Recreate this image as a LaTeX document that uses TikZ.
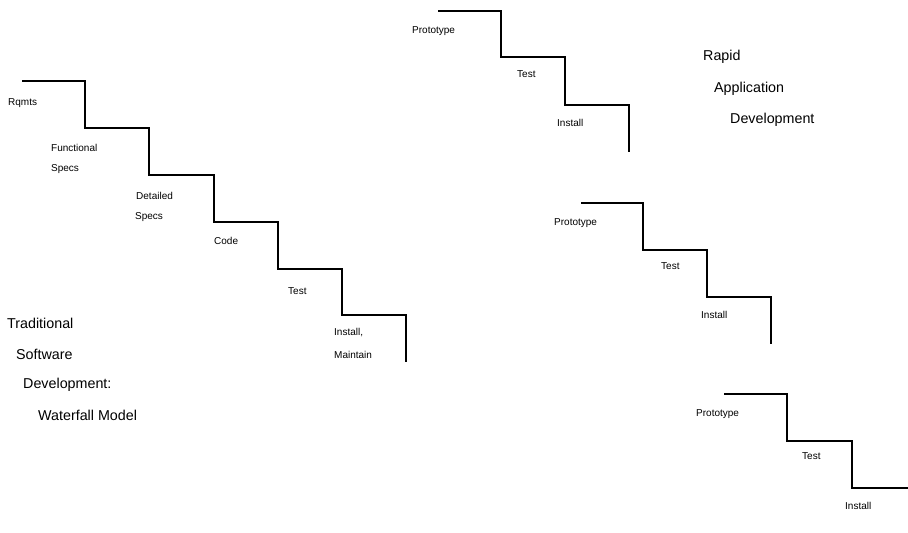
\documentclass[tikz,border=0pt]{standalone}
\usepackage{fontspec}
\setmainfont{Liberation Sans}
\begin{document}
\begin{tikzpicture}[x=1pt,y=-1pt,
  stair/.style={line width=1.2pt, line join=miter},
  small/.style={anchor=west, inner sep=0pt, font=\fontsize{10}{12}\selectfont},
  big/.style={anchor=west, inner sep=0pt, font=\fontsize{14.3}{17}\selectfont}]
\useasboundingbox (0,0) rectangle (908,533);
% Waterfall staircase
\draw[stair] (22,81) -- (85,81) -- (85,128) -- (149,128) -- (149,175) -- (214,175)
  -- (214,222) -- (278,222) -- (278,269) -- (342,269) -- (342,315) -- (406,315) -- (406,362);
\node[small] (rq) at (8,103) {Rqmts};
\node[small] (fs1) at (51,148) {Functional};
\node[small] (fs2) at (51,169) {Specs};
\node[small] (ds1) at (136,196) {Detailed};
\node[small] (ds2) at (135,217) {Specs};
\node[small] (cd) at (214,241) {Code};
\node[small] (ts) at (288,291) {Test};
\node[small] (im1) at (334,333) {Install,};
\node[small] (im2) at (334,355) {Maintain};
\node[big] (t1) at (7,323) {Traditional};
\node[big] (t2) at (16,354) {Software};
\node[big] (t3) at (23,385) {Development:};
\node[big] (t4) at (38,415) {Waterfall Model};
% RAD staircase 1
\draw[stair] (438,11) -- (501,11) -- (501,57) -- (565,57) -- (565,105) -- (629,105) -- (629,152);
\node[small] (p1) at (412,31) {Prototype};
\node[small] (e1) at (517,74) {Test};
\node[small] (i1) at (557,123) {Install};
% RAD staircase 2
\draw[stair] (581,203) -- (643,203) -- (643,250) -- (707,250) -- (707,297) -- (771,297) -- (771,344);
\node[small] (p2) at (554,223) {Prototype};
\node[small] (e2) at (661,266) {Test};
\node[small] (i2) at (701,315) {Install};
% RAD staircase 3
\draw[stair] (724,394) -- (787,394) -- (787,441) -- (852,441) -- (852,488) -- (908,488);
\node[small] (p3) at (696,414) {Prototype};
\node[small] (e3) at (802,456) {Test};
\node[small] (i3) at (845,506) {Install};
% RAD title
\node[big] (r1) at (703,57) {Rapid};
\node[big] (r2) at (714,89) {Application};
\node[big] (r3) at (730,120) {Development};
\end{tikzpicture}
\end{document}
